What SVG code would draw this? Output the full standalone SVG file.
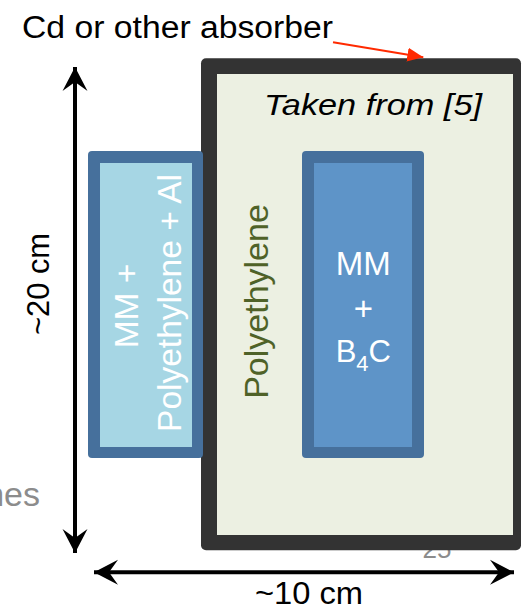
<svg xmlns="http://www.w3.org/2000/svg" width="525" height="604" viewBox="0 0 525 604">
<style>
text{font-family:"Liberation Sans",Arial,sans-serif}
.blk{fill:#000}
.gray{fill:#8c8c8c}
.wht{fill:#fff}
.dim{stroke:#000;stroke-width:4;fill:none}
.box-edge{fill:#46709c}
</style>
<defs>
<marker id="dimhead" viewBox="-25 -13 26 26" refX="0" refY="0" markerWidth="26" markerHeight="26" markerUnits="userSpaceOnUse" orient="auto-start-reverse">
<path d="M0,0 L-24,-12.5 L-15,0 L-24,12.5 Z" fill="#000"/>
</marker>
<marker id="redhead" viewBox="-16 -8 17 16" refX="0" refY="0" markerWidth="17" markerHeight="16" markerUnits="userSpaceOnUse" orient="auto">
<path d="M0,0 L-16,-7 L-16,7 Z" fill="#ff2a00"/>
</marker>
</defs>
<rect width="525" height="604" fill="#fff"/>
<g id="background-text">
<text class="gray" x="40" y="506" font-size="34" text-anchor="end">nes</text>
<text class="gray" x="437" y="558" font-size="26" text-anchor="middle" fill="#a0a0a0">25</text>
</g>
<g id="absorber-box">
<rect x="201" y="58.3" width="320" height="492" rx="5" fill="#333333"/>
<rect x="217" y="74" width="296" height="461" fill="#ecf0e2"/>
<text x="482" y="115" font-size="30" font-style="italic" text-anchor="end" textLength="218" lengthAdjust="spacingAndGlyphs" class="blk">Taken from [5]</text>
<text transform="translate(268,301.5) rotate(-90)" font-size="34" text-anchor="middle" fill="#4f6228">Polyethylene</text>
</g>
<g id="left-box">
<rect x="88" y="151" width="115" height="307" rx="4" class="box-edge"/>
<rect x="100" y="163" width="92" height="284" fill="#a6d6e4"/>
<text class="wht" transform="translate(138,306) rotate(-90)" font-size="33.5" text-anchor="middle">MM +</text>
<text class="wht" transform="translate(181,303) rotate(-90)" font-size="33.5" text-anchor="middle">Polyethylene + Al</text>
</g>
<g id="center-box">
<rect x="302" y="151" width="122" height="307" rx="4" class="box-edge"/>
<rect x="314" y="163" width="98" height="284" fill="#5e94c8"/>
<text class="wht" x="363.3" y="275" font-size="33" text-anchor="middle">MM</text>
<text class="wht" x="363.3" y="320" font-size="33" text-anchor="middle">+</text>
<text class="wht" x="363.3" y="362" font-size="31" text-anchor="middle">B<tspan dy="9" font-size="22">4</tspan><tspan dy="-9">C</tspan></text>
</g>
<g id="labels">
<text class="blk" x="22" y="37.5" font-size="31" textLength="311" lengthAdjust="spacingAndGlyphs">Cd or other absorber</text>
<text class="blk" transform="translate(48.5,284) rotate(-90)" font-size="31" text-anchor="middle" textLength="102" lengthAdjust="spacingAndGlyphs">~20 cm</text>
<text class="blk" x="309" y="604" font-size="31" text-anchor="middle" textLength="108" lengthAdjust="spacingAndGlyphs">~10 cm</text>
</g>
<g id="connectors">
<line class="dim" x1="75" y1="553" x2="75" y2="67" marker-end="url(#dimhead)" marker-start="url(#dimhead)"/>
<line class="dim" x1="94" y1="572.3" x2="514" y2="572.3" marker-end="url(#dimhead)" marker-start="url(#dimhead)"/>
<line x1="333" y1="42.3" x2="423.3" y2="57.3" stroke="#ff2a00" stroke-width="2" marker-end="url(#redhead)"/>
</g>
</svg>
